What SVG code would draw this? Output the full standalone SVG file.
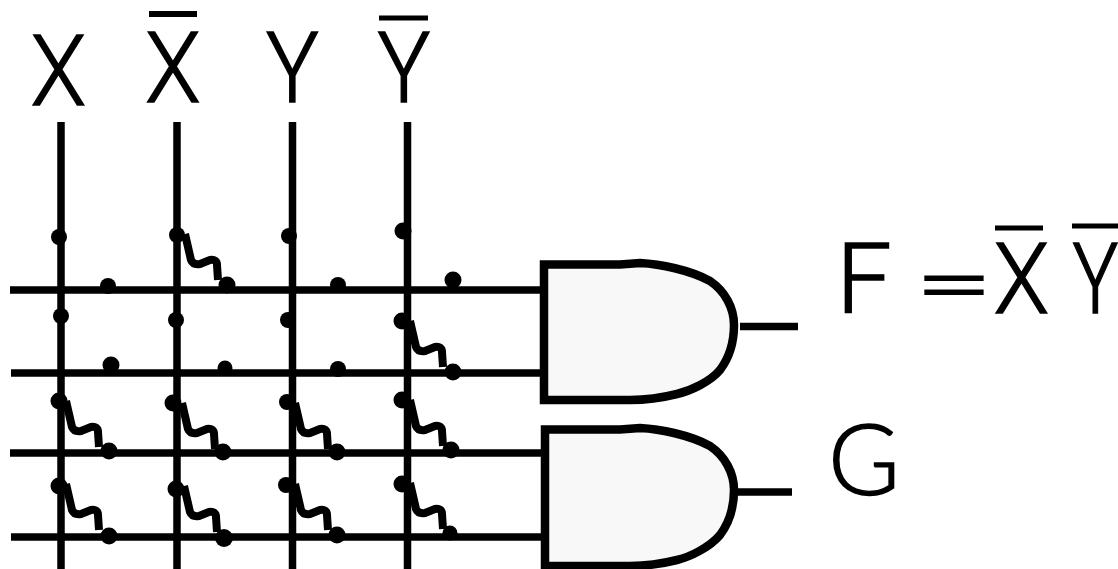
<svg xmlns="http://www.w3.org/2000/svg" width="1118" height="569" viewBox="0 0 1118 569">
<style>
.w{stroke:#000;stroke-width:7.500;fill:none}
.s{stroke:#000;stroke-width:8;fill:none;stroke-linejoin:round}
.g{stroke:#000;stroke-width:8.500;fill:#f8f8f8}
.b{stroke:#000;stroke-width:5;fill:none}
circle{fill:#000}
text{font-family:Roboto,"Liberation Sans",sans-serif;font-weight:300;font-size:98px;text-anchor:middle;fill:#000;stroke:#000;stroke-width:1.400}
</style>
<defs><path id="sq" class="s" d="M-3 -6L3 20Q5 25 12 24L22 20Q29 19 29 25L30 40"/></defs>
<rect width="1118" height="569" fill="#fff"/>
<g id="connectors">
<path class="w" d="M61 122V569M177 122V569M292.500 122V569M407.500 122V569"/>
<path class="w" d="M10 290H545M11 373H545M10 453H545M11 537H545"/>
<path class="w" d="M740 326.500H798M736 492H792"/>
<g id="fuses">
<use href="#sq" x="188" y="240"/><use href="#sq" x="413" y="327"/>
<use href="#sq" x="69" y="407"/><use href="#sq" x="185" y="409"/><use href="#sq" x="298" y="409"/><use href="#sq" x="413" y="406"/>
<use href="#sq" x="69" y="490"/><use href="#sq" x="187" y="492"/><use href="#sq" x="298" y="490"/><use href="#sq" x="413" y="489"/>
</g>
<g id="dots">
<circle cx="59" cy="237" r="8"/><circle cx="177" cy="235" r="8"/><circle cx="289" cy="236" r="8"/><circle cx="403" cy="231" r="8.500"/>
<circle cx="108" cy="286" r="8"/><circle cx="227" cy="285" r="8.500"/><circle cx="338" cy="285" r="8"/><circle cx="453" cy="280" r="8.500"/>
<circle cx="61" cy="316" r="8"/><circle cx="176" cy="320" r="8"/><circle cx="288" cy="320" r="8"/><circle cx="402" cy="321" r="8.500"/>
<circle cx="111" cy="365" r="8.500"/><circle cx="225" cy="368" r="7.500"/><circle cx="338" cy="369" r="8"/><circle cx="453" cy="372" r="8.500"/>
<circle cx="59" cy="401" r="8.500"/><circle cx="173" cy="403" r="8.500"/><circle cx="287" cy="402" r="8"/><circle cx="402" cy="400" r="8.500"/>
<circle cx="109" cy="451" r="8.500"/><circle cx="223" cy="452" r="8.500"/><circle cx="337" cy="452" r="8.500"/><circle cx="451" cy="450" r="8.500"/>
<circle cx="59" cy="486" r="8.500"/><circle cx="176" cy="489" r="8.500"/><circle cx="286" cy="485" r="8"/><circle cx="402" cy="484" r="8.500"/>
<circle cx="109" cy="536" r="8.500"/><circle cx="224" cy="538" r="9"/><circle cx="337" cy="535" r="8.500"/><circle cx="450" cy="533" r="7.500"/>
</g>
</g>
<g id="gate-f"><path class="g" d="M544 264.500H620L640 263C660 264 690 270 710 281C725 291 734 308 734 325C734 342 729 358 720 370C710 382 690 391 677 394C665 397 650 400 630 400H544Z"/></g>
<g id="gate-g"><path class="g" d="M545 429.500H620L640 428C660 429 690 435 710 446C725 456 734 473 734 490C734 507 729 523 720 535C710 547 690 557 677 560C665 563 650 566 630 566H545Z"/></g>
<g id="label-x"><text transform="translate(58.500 105) scale(.93 1)">X</text></g>
<g id="label-x-bar"><text transform="translate(173 102) scale(.93 1)">X</text><path class="b" d="M149 14H197" style="stroke-width:6"/></g>
<g id="label-y"><text transform="translate(292.500 102) scale(.9 1)">Y</text></g>
<g id="label-y-bar"><text transform="translate(404 102) scale(.9 1)">Y</text><path class="b" d="M379 18H428"/></g>
<g id="label-f"><text transform="translate(864 313)">F</text></g>
<g id="label-eq"><text transform="translate(954 308) scale(1.400 .7)" style="stroke-width:2.500">=</text></g>
<g id="label-fx"><text transform="translate(1021.500 313) scale(.93 1)">X</text><path class="b" d="M995 228H1043"/></g>
<g id="label-fy"><text transform="translate(1095.500 313) scale(.78 1)">Y</text><path class="b" d="M1072 226H1118"/></g>
<g id="label-g"><text transform="translate(864 495)" style="font-family:Lato,Roboto,sans-serif">G</text></g>
</svg>
